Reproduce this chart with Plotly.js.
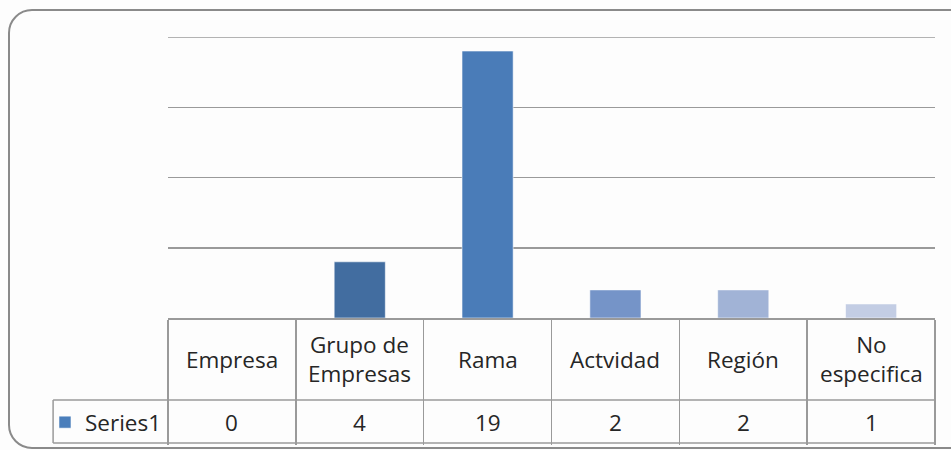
<!DOCTYPE html>
<html>
<head>
<meta charset="utf-8">
<script src="https://cdn.plot.ly/plotly-3.0.1.min.js"></script>
<style>
  html, body { margin: 0; padding: 0; background: #ffffff; }
  #wrap { position: relative; width: 951px; height: 450px; }
  #chart { position: absolute; left: 0; top: 0; width: 951px; height: 450px; }
  #frame { position: absolute; left: 8px; top: 9px; width: 970px; height: 436px;
           border: 2px solid #8a8a8a; border-radius: 24px; pointer-events: none; }
</style>
</head>
<body>
<div id="wrap">
  <div id="chart"></div>
  <div id="frame"></div>
</div>
<script>
var categories = ["Empresa", "Grupo de Empresas", "Rama", "Actvidad", "Región", "No especifica"];
var headerLabels = ["Empresa", "Grupo de<br>Empresas", "Rama", "Actvidad", "Región", "No<br>especifica"];
var values = [0, 4, 19, 2, 2, 1];
var barColors = ["#4A7EBB", "#426DA0", "#4A7CB8", "#7594C8", "#A1B3D6", "#C3CDE4"];
var seriesName = "Series1";
var yMax = 20;

var textColor = "#262626";
var lineColor = "#9a9a9a";
var fontFam = "'Open Sans', 'DejaVu Sans', sans-serif";
var fontSize = 22.5;

// table row positions (paper units; plot area bottom = 0)
var rowHeaderY = -0.146;
var rowValueY = -0.372;
var rowLine1 = -0.2918;
var rowLine2 = -0.4448;
var legendCellLeft = -0.1498;

var annotations = [];
for (var i = 0; i < categories.length; i++) {
  annotations.push({
    x: categories[i], xref: "x", y: rowHeaderY, yref: "paper",
    text: headerLabels[i], showarrow: false, xanchor: "center", yanchor: "middle",
    font: { family: fontFam, size: fontSize, color: textColor }
  });
  annotations.push({
    x: categories[i], xref: "x", y: rowValueY, yref: "paper",
    text: String(values[i]), showarrow: false, xanchor: "center", yanchor: "middle",
    font: { family: fontFam, size: fontSize, color: textColor }
  });
}

var shapes = [
  // top gridline (at the range end, which Plotly clips)
  { type: "line", xref: "paper", yref: "y", x0: 0, x1: 1, y0: yMax, y1: yMax, layer: "below",
    line: { color: lineColor, width: 1.5 } },
  { type: "line", xref: "paper", yref: "paper", x0: legendCellLeft, x1: 1, y0: rowLine1, y1: rowLine1,
    line: { color: lineColor, width: 1.5 } },
  { type: "line", xref: "paper", yref: "paper", x0: legendCellLeft, x1: 1, y0: rowLine2, y1: rowLine2,
    line: { color: lineColor, width: 1.5 } },
  { type: "line", xref: "paper", yref: "paper", x0: legendCellLeft, x1: legendCellLeft, y0: rowLine1, y1: rowLine2,
    line: { color: lineColor, width: 1.5 } }
];

var trace = {
  type: "bar",
  x: categories,
  y: values,
  name: seriesName,
  width: 0.4,
  marker: { color: barColors, line: { color: "rgba(255,255,255,0.55)", width: 1 } },
  showlegend: true,
  hoverinfo: "skip"
};

var layout = {
  width: 951, height: 450,
  margin: { l: 168, r: 16, t: 37, b: 132, pad: 0, autoexpand: false },
  paper_bgcolor: "#fdfdfd",
  plot_bgcolor: "#fdfdfd",
  bargap: 0.6,
  xaxis: {
    type: "category",
    automargin: false,
    showticklabels: false,
    showgrid: false,
    zeroline: false,
    showline: true, linecolor: lineColor, linewidth: 1.5,
    ticks: "outside", tickson: "boundaries", ticklen: 125, tickwidth: 1.5, tickcolor: lineColor,
    fixedrange: true
  },
  yaxis: {
    range: [0, yMax], dtick: 5, tick0: 0,
    automargin: false,
    showticklabels: false,
    showgrid: true, gridcolor: lineColor, gridwidth: 1.5,
    zeroline: false, showline: false, ticks: "",
    fixedrange: true
  },
  showlegend: true,
  legend: {
    x: -0.1604, xanchor: "left", y: rowValueY, yanchor: "middle",
    bgcolor: "rgba(0,0,0,0)", borderwidth: 0,
    font: { family: fontFam, size: fontSize, color: textColor },
    itemwidth: 30
  },
  annotations: annotations,
  shapes: shapes
};

Plotly.newPlot("chart", [trace], layout, { displayModeBar: false, staticPlot: true });
</script>
</body>
</html>
